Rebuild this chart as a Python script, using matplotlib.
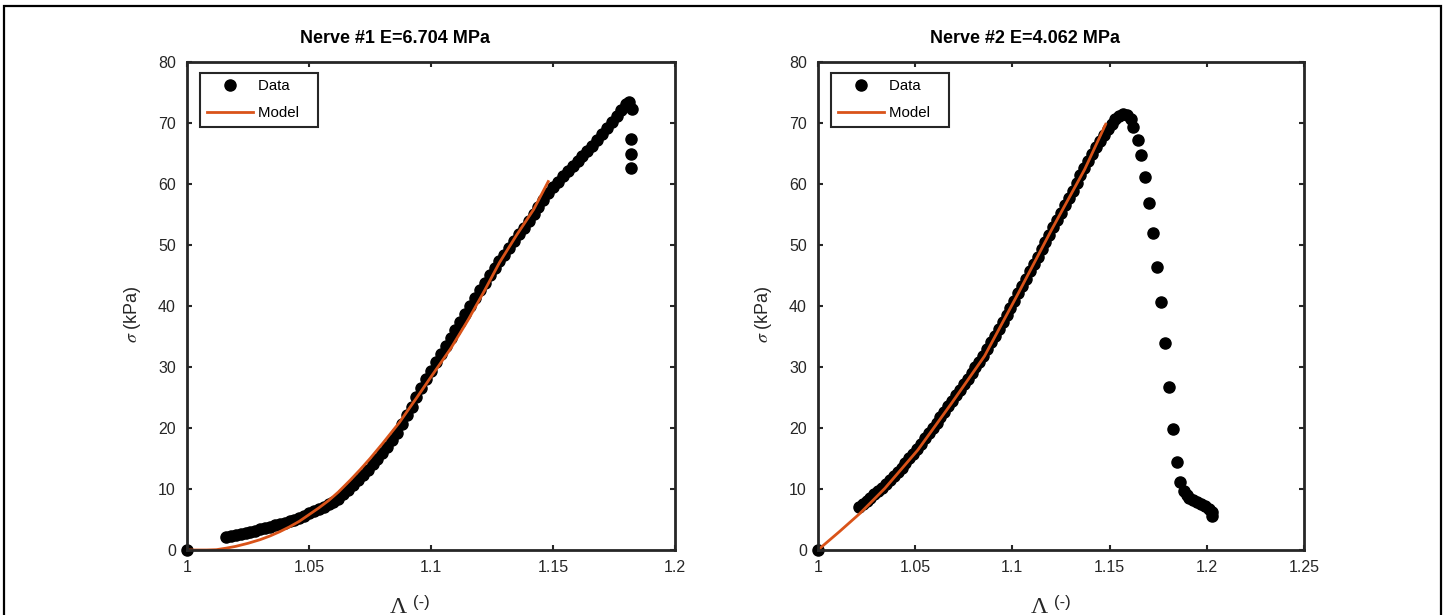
import matplotlib
matplotlib.use("Agg")
import matplotlib.pyplot as plt
from matplotlib.patches import Rectangle
from matplotlib.ticker import FormatStrFormatter

plt.rcParams["font.family"] = ["Liberation Sans", "DejaVu Sans"]
plt.rcParams["mathtext.fontset"] = "stix"

# ---- Nerve #1 data (stretch, stress in kPa) ----
n1_data_x = [1.000,
             1.016, 1.018, 1.020, 1.022, 1.024, 1.026, 1.028, 1.030, 1.032, 1.034,
             1.036, 1.038, 1.040, 1.042, 1.044, 1.046, 1.048, 1.050, 1.052, 1.054,
             1.056, 1.058, 1.060, 1.062, 1.064, 1.066, 1.068, 1.070, 1.072, 1.074,
             1.076, 1.078, 1.080, 1.082, 1.084, 1.086, 1.088, 1.090, 1.092, 1.094,
             1.096, 1.098, 1.100, 1.102, 1.104, 1.106, 1.108, 1.110, 1.112, 1.114,
             1.116, 1.118, 1.120, 1.122, 1.124, 1.126, 1.128, 1.130, 1.132, 1.134,
             1.136, 1.138, 1.140, 1.142, 1.144, 1.146, 1.148, 1.150, 1.152, 1.154,
             1.156, 1.158, 1.160, 1.162, 1.164, 1.166, 1.168, 1.170, 1.172, 1.174,
             1.176, 1.178, 1.180, 1.1812, 1.1823, 1.1821, 1.1821, 1.1821]
n1_data_y = [0.0,
             2.10, 2.27, 2.45, 2.63, 2.81, 3.00, 3.19, 3.39, 3.59, 3.80,
             4.02, 4.24, 4.46, 4.70, 4.98, 5.29, 5.63, 6.00, 6.38, 6.75,
             7.12, 7.50, 7.90, 8.40, 9.10, 9.88, 10.70, 11.52, 12.34, 13.17,
             14.03, 14.92, 15.90, 16.95, 18.05, 19.25, 20.60, 22.05, 23.50, 25.00,
             26.50, 27.95, 29.40, 30.80, 32.20, 33.50, 34.80, 36.10, 37.40, 38.70,
             40.00, 41.30, 42.55, 43.80, 45.00, 46.20, 47.35, 48.40, 49.50, 50.60,
             51.75, 52.85, 54.00, 55.10, 56.20, 57.40, 58.55, 59.50, 60.40, 61.25,
             62.05, 62.90, 63.70, 64.55, 65.40, 66.25, 67.20, 68.20, 69.20, 70.20,
             71.20, 72.20, 73.10, 73.50, 72.30, 67.30, 64.90, 62.70]

n1_model_x = [1.000, 1.008, 1.012, 1.016, 1.020, 1.025, 1.030, 1.034, 1.038, 1.042,
              1.046, 1.050, 1.054, 1.058, 1.062, 1.067, 1.071, 1.075, 1.080, 1.087,
              1.094, 1.100, 1.108, 1.115, 1.122, 1.128, 1.135, 1.142, 1.148]
n1_model_y = [0.0, 0.0, 0.05, 0.3, 0.6, 1.1, 1.7, 2.3, 3.0, 3.8,
              4.7, 5.8, 6.9, 8.1, 9.5, 11.5, 13.2, 15.0, 17.4, 20.9,
              24.9, 28.4, 33.0, 37.6, 42.6, 47.1, 51.6, 55.8, 60.4]

# ---- Nerve #2 data ----
n2_data_x = [1.000,
             1.021, 1.023, 1.025, 1.027, 1.029, 1.031, 1.033, 1.035, 1.037, 1.039,
             1.041, 1.043, 1.045, 1.047, 1.049, 1.051, 1.053, 1.055, 1.057, 1.059,
             1.061, 1.063, 1.065, 1.067, 1.069, 1.071, 1.073, 1.075, 1.077, 1.079,
             1.081, 1.083, 1.085, 1.087, 1.089, 1.091, 1.093, 1.095, 1.097, 1.099,
             1.101, 1.103, 1.105, 1.107, 1.109, 1.111, 1.113, 1.115, 1.117, 1.119,
             1.121, 1.123, 1.125, 1.127, 1.129, 1.131, 1.133, 1.135, 1.137, 1.139,
             1.141, 1.143, 1.145, 1.147, 1.149, 1.151, 1.153, 1.155, 1.157, 1.159,
             1.161, 1.162, 1.1645, 1.1664, 1.1684, 1.1705, 1.1725, 1.1746, 1.1764,
             1.1785, 1.1804, 1.1824, 1.1845, 1.1864, 1.1885, 1.1897, 1.191, 1.193,
             1.195, 1.197, 1.199, 1.201, 1.2026, 1.2028]
n2_data_y = [0.0,
             7.0, 7.5, 8.0, 8.55, 9.1, 9.65, 10.2, 10.8, 11.45, 12.1,
             12.8, 13.5, 14.25, 15.0, 15.8, 16.6, 17.45, 18.3, 19.15, 20.0,
             20.9, 21.8, 22.7, 23.6, 24.5, 25.4, 26.3, 27.2, 28.1, 29.0,
             29.95, 30.9, 31.85, 32.95, 34.05, 35.15, 36.25, 37.4, 38.55, 39.7,
             40.9, 42.1, 43.3, 44.5, 45.7, 46.9, 48.1, 49.3, 50.5, 51.7,
             52.9, 54.1, 55.3, 56.5, 57.7, 58.9, 60.1, 61.4, 62.6, 63.8,
             64.9, 66.0, 67.0, 68.0, 69.0, 69.9, 70.6, 71.1, 71.4, 71.3,
             70.6, 69.4, 67.2, 64.8, 61.2, 56.9, 51.9, 46.4, 40.6,
             34.0, 26.8, 19.8, 14.4, 11.2, 9.7, 9.0, 8.6, 8.2,
             7.9, 7.6, 7.2, 6.8, 6.2, 5.6]

n2_model_x = [1.000, 1.011, 1.0216, 1.0344, 1.0514, 1.0686, 1.0857, 1.1029, 1.120,
              1.1372, 1.148]
n2_model_y = [0.0, 3.0, 6.0, 10.1, 16.4, 24.0, 31.8, 42.0, 52.4, 62.4, 69.8]

titles = ["Nerve #1 E=6.704 MPa", "Nerve #2 E=4.062 MPa"]
x_ticks = [[1, 1.05, 1.1, 1.15, 1.2], [1, 1.05, 1.1, 1.15, 1.2, 1.25]]
y_ticks = [0, 10, 20, 30, 40, 50, 60, 70, 80]

dark = "#262626"
orange = "#D95319"

fig = plt.figure(figsize=(14.5, 6.15), dpi=100)
ax1 = fig.add_axes([0.129, 0.1057, 0.3366, 0.7935])
ax2 = fig.add_axes([0.5641, 0.1057, 0.3352, 0.7935])

panels = [
    (ax1, n1_data_x, n1_data_y, n1_model_x, n1_model_y),
    (ax2, n2_data_x, n2_data_y, n2_model_x, n2_model_y),
]

for i, (ax, dx, dy, mx, my) in enumerate(panels):
    # trailing spaces give the wider MATLAB-style legend box
    ax.plot(dx, dy, "o", color="black", markersize=8, label="Data     ", clip_on=False)
    ax.plot(mx, my, "-", color=orange, linewidth=2.0, label="Model   ")

    ax.set_xlim(x_ticks[i][0], x_ticks[i][-1])
    ax.set_ylim(0, 80)
    ax.set_xticks(x_ticks[i])
    ax.set_yticks(y_ticks)
    ax.xaxis.set_major_formatter(FormatStrFormatter("%g"))
    ax.tick_params(direction="in", length=3.6, width=1.5, colors=dark,
                   labelsize=11.5, top=True, right=True)
    ax.tick_params(axis="x", pad=7)
    ax.tick_params(axis="y", pad=8)
    for s in ax.spines.values():
        s.set_linewidth(2.0)
        s.set_color(dark)

    ax.set_ylabel(r"$\sigma$ (kPa)", fontsize=13, color=dark)
    ax.yaxis.set_label_coords(-0.09, 0.484)

    leg = ax.legend(loc="upper left", bbox_to_anchor=(0.027, 0.978), borderaxespad=0,
                    fontsize=10.8, fancybox=False, framealpha=1, edgecolor=dark,
                    numpoints=1, handlelength=3.1, handletextpad=0.3,
                    labelspacing=0.85, borderpad=0.45)
    leg.get_frame().set_linewidth(1.5)

# titles and x labels placed like the original
fig.text(0.2724, 0.9296, titles[0], ha="center", va="baseline",
         fontsize=13, fontweight="bold")
fig.text(0.7069, 0.9296, titles[1], ha="center", va="baseline",
         fontsize=13, fontweight="bold")

for xc in [0.2748, 0.7169]:
    fig.text(xc, 0.0035, "\u039b", ha="center", va="baseline", fontsize=17,
             family="Liberation Serif", color=dark)
    fig.text(xc + 0.0155, 0.0203, "(-)", ha="center", va="center", fontsize=12,
             color=dark)

# outer frame
fig.patches.append(Rectangle((3.5 / 1450, -0.1), (1441 - 3.5) / 1450, 1.1 - 6.5 / 615,
                             transform=fig.transFigure, fill=False,
                             edgecolor="black", linewidth=1.6))

fig.savefig("out.png", dpi=100)
